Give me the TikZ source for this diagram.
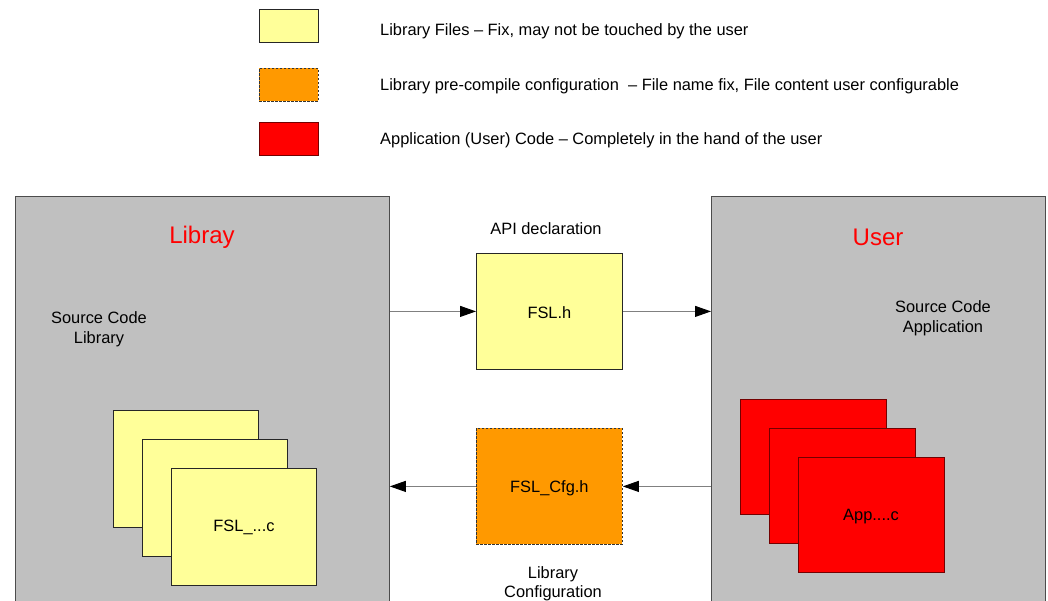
\documentclass[tikz,border=0pt]{standalone}
\usepackage{fontspec}
\setmainfont{Liberation Sans}
\usetikzlibrary{arrows.meta}
\definecolor{yfill}{HTML}{FFFF99}
\definecolor{ofill}{HTML}{FF9900}
\definecolor{gfill}{HTML}{C0C0C0}
\definecolor{gline}{HTML}{808080}
\tikzset{
  box/.style={draw, rectangle, inner sep=0pt, anchor=north west, line width=0.8pt},
  libfile/.style={box, fill=yfill, draw=black!85},
  cfgfile/.style={box, fill=ofill, draw=black!80, dashed, dash pattern=on 2.5pt off 1.5pt},
  appfile/.style={box, fill=red, draw=red!45!black},
  area/.style={box, fill=gfill, draw=black!70},
  lbl/.style={inner sep=0pt, yshift=-1.5pt, font=\fontsize{16.4}{19.5}\selectfont, align=center},
  title/.style={inner sep=0pt, font=\fontsize{24}{28}\selectfont, text=red},
  conn/.style={draw=gline, line width=1pt, -{Triangle[length=16pt,width=11pt,color=black]}},
}
\begin{document}
\begin{tikzpicture}[x=1pt,y=-1pt]
\useasboundingbox (0,0) rectangle (1048,600);
\clip (0,0) rectangle (1048,600);
% legend
\node[libfile, minimum width=59pt, minimum height=33pt] (lgy) at (259,9) {};
\node[cfgfile, minimum width=59pt, minimum height=33pt] (lgo) at (259,68) {};
\node[appfile, minimum width=59pt, minimum height=33pt] (lgr) at (259,122) {};
\node[lbl, anchor=west] (lty) at (380,30) {Library Files -- Fix, may not be touched by the user};
\node[lbl, anchor=west] (lto) at (380,85) {Library pre-compile configuration\ \ -- File name fix, File content user configurable};
\node[lbl, anchor=west] (ltr) at (380,139) {Application (User) Code -- Completely in the hand of the user};
% areas
\node[area, minimum width=374pt, minimum height=430pt] (lib) at (15,196) {};
\node[area, minimum width=334pt, minimum height=430pt] (usr) at (711,196) {};
\node[title] (libt) at (202,237) {Libray};
\node[title] (usrt) at (878,237) {User};
\node[lbl] (srcl) at (99,328) {Source Code\\Library};
\node[lbl] (srca) at (943,317) {Source Code\\Application};
% library files stack
\node[libfile, minimum width=145pt, minimum height=117pt] (f1) at (113,410) {};
\node[libfile, minimum width=145pt, minimum height=117pt] (f2) at (142,439) {};
\node[libfile, minimum width=145pt, minimum height=117pt] (f3) at (171,468) {};
\node[lbl] (f3t) at (244,526) {FSL\_...c};
% app files stack
\node[appfile, minimum width=146pt, minimum height=115pt] (a1) at (740,399) {};
\node[appfile, minimum width=146pt, minimum height=115pt] (a2) at (769,428) {};
\node[appfile, minimum width=146pt, minimum height=115pt] (a3) at (798,457) {};
\node[lbl] (a3t) at (871,515) {App....c};
% middle files
\node[libfile, minimum width=146pt, minimum height=116pt] (fslh) at (476,253) {};
\node[lbl] at (fslh.center) {FSL.h};
\node[cfgfile, minimum width=146pt, minimum height=116pt] (cfgh) at (476,428) {};
\node[lbl] at (cfgh.center) {FSL\_Cfg.h};
\node[lbl] (api) at (546,227) {API declaration};
\node[lbl] (lcfg) at (553,582) {Library\\Configuration};
% connectors
\draw[conn] (lib.east |- fslh.west) -- (fslh.west);
\draw[conn] (fslh.east) -- (usr.west |- fslh.east);
\draw[conn] (usr.west |- cfgh.east) -- (cfgh.east);
\draw[conn] (cfgh.west) -- (lib.east |- cfgh.west);
\end{tikzpicture}
\end{document}
